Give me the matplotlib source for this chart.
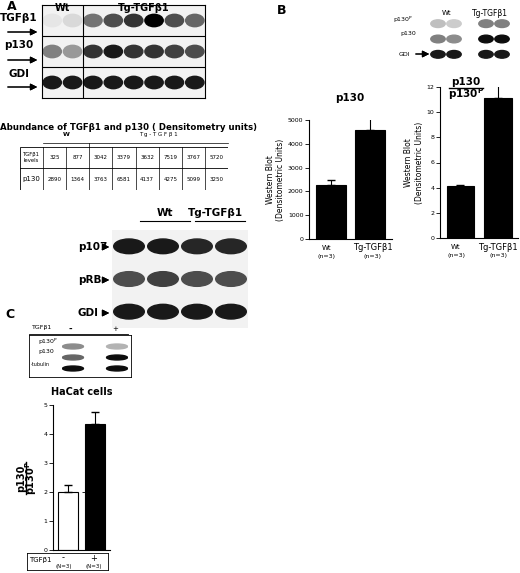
import numpy as np
import matplotlib.pyplot as plt
from matplotlib.patches import Ellipse, Rectangle

W, H = 520, 573

# densitometry table
tab_tgf = [325, 877, 3042, 3379, 3632, 7519, 3767, 5720]
tab_p130 = [2890, 1364, 3763, 6581, 4137, 4275, 5099, 3250]

# panel B bars
b1_groups = ['Wt', 'Tg-TGFβ1']
b1_vals = [2270, 4600]
b1_err = [230, 480]
b2_vals = [4.1, 11.1]
b2_err = [0.1, 1.3]

# panel C bars
c_vals = [2.0, 4.35]
c_err = [0.25, 0.4]

# blot lane intensities (0..1, None = gap)
blotA_tgf = [0.1, 0.15, 0.55, 0.7, 0.8, 1.0, 0.7, 0.6]
blotA_p130 = [0.5, 0.4, 0.8, 0.9, 0.8, 0.8, 0.75, 0.7]
blotA_gdi = [0.9] * 8
blot2_p107 = [0.9, 0.9, 0.85, 0.85]
blot2_prb = [0.7, 0.75, 0.7, 0.7]
blot2_gdi = [0.9, 0.9, 0.9, 0.9]
blotB_p130p = [0.25, 0.2, None, 0.5, 0.5]
blotB_p130 = [0.5, 0.45, None, 0.95, 0.95]
blotB_gdi = [0.9, 0.9, None, 0.9, 0.9]
blotC_p130p = [0.45, None, 0.3]
blotC_p130 = [0.6, None, 0.95]
blotC_tub = [0.95, None, 0.95]

fig = plt.figure(figsize=(W / 100, H / 100), dpi=100)
fig.patch.set_facecolor('white')


def ax_px(x0, y0, x1, y1):
    return fig.add_axes([x0 / W, 1 - y1 / H, (x1 - x0) / W, (y1 - y0) / H])


def txt(x, y, s, **kw):
    kw.setdefault('ha', 'center')
    kw.setdefault('va', 'center')
    kw.setdefault('fontsize', 6)
    fig.text(x / W, 1 - y / H, s, **kw)


def arrow(x0, x1, y):
    fig.add_artist(plt.annotate('', xy=(x1 / W, 1 - y / H), xytext=(x0 / W, 1 - y / H),
                                xycoords='figure fraction',
                                arrowprops=dict(arrowstyle='-|>', lw=0.8, color='k')))


def blot(ax, rows, width=0.9, height=0.35, bg='#f2f2f2'):
    n = len(rows)
    ax.set_xlim(0, len(rows[0]))
    ax.set_ylim(0, n)
    for r, lanes in enumerate(rows):
        yc = n - r - 0.5
        for i, v in enumerate(lanes):
            if v is None:
                continue
            ax.add_patch(Rectangle((i, n - r - 1), 1, 1, color=bg, zorder=0, lw=0))
            ax.add_patch(Ellipse((i + 0.5, yc), width, height, color=str(1 - v), zorder=1))
    ax.set_xticks([])
    ax.set_yticks([])


def frac(x, y, size=8, rot=0, gap=6):
    if rot == 0:
        txt(x, y - gap, 'p130', fontsize=size, fontweight='bold')
        txt(x, y + gap, r'p130$^\mathregular{P}$', fontsize=size, fontweight='bold')
        fig.add_artist(plt.Line2D([(x - 17) / W, (x + 17) / W], [1 - y / H] * 2, color='k', lw=1))
    else:
        txt(x - gap, y, 'p130', fontsize=size, fontweight='bold', rotation=90)
        txt(x + gap, y, r'p130$^\mathregular{P}$', fontsize=size, fontweight='bold', rotation=90)
        fig.add_artist(plt.Line2D([x / W] * 2, [1 - (y - 16) / H, 1 - (y + 16) / H], color='k', lw=1))


# ---- Panel A ----
txt(12, 6, 'A', fontsize=9, fontweight='bold')
axA = ax_px(42, 5, 205, 98)
blot(axA, [blotA_tgf, blotA_p130, blotA_gdi], height=0.4)
for y in [1, 2]:
    axA.axhline(y, color='k', lw=0.8)
axA.axvline(2, color='k', lw=0.8)
axA.text(1, 2.82, 'Wt', ha='center', fontsize=7, fontweight='bold')
axA.text(5, 2.82, 'Tg-TGFβ1', ha='center', fontsize=7, fontweight='bold')
for lab, y in [('TGFβ1', 18), ('p130', 45), ('GDI', 74)]:
    txt(19, y, lab, fontsize=7.5, fontweight='bold')
for y in [32, 60, 87]:
    arrow(5, 40, y)

# table
txt(128, 127, 'Abundance of TGFβ1 and p130 ( Densitometry units)', fontsize=6.2, fontweight='bold')
axT = ax_px(20, 147, 228, 190)
axT.set_xlim(0, 9)
axT.set_ylim(0, 2)
axT.axis('off')
axT.add_patch(Rectangle((0, 0), 9, 2, fill=False, lw=0.6))
axT.axhline(1, color='k', lw=0.6)
for i in range(1, 9):
    axT.plot([i, i], [0, 2], color='k', lw=0.5)
axT.plot([1, 9], [2.2, 2.2], color='k', lw=0.5, clip_on=False)
axT.plot([3, 3], [2, 2.2], color='k', lw=0.5, clip_on=False)
axT.text(2, 2.45, 'W', ha='center', va='bottom', fontsize=4.5, fontweight='bold')
axT.text(6, 2.45, 'T g - T G F β 1', ha='center', va='bottom', fontsize=4)
axT.text(0.5, 1.5, 'TGFβ1\nlevels', ha='center', va='center', fontsize=3.8)
axT.text(0.5, 0.5, 'p130', ha='center', va='center', fontsize=5)
for i, (a, b) in enumerate(zip(tab_tgf, tab_p130)):
    axT.text(i + 1.5, 1.5, str(a), ha='center', va='center', fontsize=4)
    axT.text(i + 1.5, 0.5, str(b), ha='center', va='center', fontsize=4)

# second blot
ax2 = ax_px(112, 230, 248, 328)
blot(ax2, [blot2_p107, blot2_prb, blot2_gdi], height=0.45)
ax2.axis('off')
txt(165, 213, 'Wt', fontsize=7.5, fontweight='bold')
txt(215, 213, 'Tg-TGFβ1', fontsize=7.5, fontweight='bold')
fig.add_artist(plt.Line2D([140 / W, 190 / W], [1 - 221 / H] * 2, color='k', lw=0.8))
fig.add_artist(plt.Line2D([195 / W, 245 / W], [1 - 221 / H] * 2, color='k', lw=0.8))
for lab, y in [('p107', 247), ('pRB', 280), ('GDI', 313)]:
    txt(78, y, lab, fontsize=7.5, fontweight='bold', ha='left')
    arrow(101, 112, y)

# ---- Panel B ----
txt(282, 10, 'B', fontsize=9, fontweight='bold')
axBb = ax_px(430, 16, 510, 62)
blot(axBb, [blotB_p130p, blotB_p130, blotB_gdi], height=0.5, bg='white')
axBb.axis('off')
txt(447, 13, 'Wt', fontsize=5)
txt(490, 13, 'Tg-TGFβ1', fontsize=5.5)
txt(403, 20, r'p130$^\mathregular{P}$', fontsize=4.5)
txt(408, 34, 'p130', fontsize=4.5)
txt(404, 54, 'GDI', fontsize=4.5)
arrow(413, 432, 54)


def bar_panel(ax, vals, errs, colors, ylim, ticks):
    x = np.arange(len(vals))
    ax.bar(x, vals, width=0.75, color=colors, edgecolor='k', lw=0.8)
    ax.errorbar(x, vals, yerr=[[0] * len(vals), errs], fmt='none', ecolor='k', elinewidth=0.8, capsize=3)
    ax.set_ylim(*ylim)
    ax.set_xlim(-0.55, len(vals) - 0.45)
    ax.set_yticks(ticks)
    ax.tick_params(axis='y', labelsize=4.5, length=3, width=0.6, pad=1)
    ax.set_xticks([])
    for s in ['top', 'right']:
        ax.spines[s].set_visible(False)


ax1 = ax_px(309, 120, 392, 239)
bar_panel(ax1, b1_vals, b1_err, ['k', 'k'], (0, 5000), [0, 1000, 2000, 3000, 4000, 5000])
ax1.set_ylabel('Western Blot\n(Densitometric Units)', fontsize=5.5, labelpad=2)
txt(350, 98, 'p130', fontsize=7.5, fontweight='bold')
for x, g in zip([327, 373], b1_groups):
    txt(x, 248, g, fontsize=5 if g == 'Wt' else 6)
    txt(x, 257, '(n=3)', fontsize=4.5)

ax3 = ax_px(440, 87, 518, 238)
bar_panel(ax3, b2_vals, b2_err, ['k', 'k'], (0, 12), [0, 2, 4, 6, 8, 10, 12])
ax3.set_ylabel('Western Blot\n(Densitometric Units)', fontsize=5.5, labelpad=2)
frac(466, 88, size=7.5)
for x, g in zip([456, 498], b1_groups):
    txt(x, 247, g, fontsize=5 if g == 'Wt' else 6)
    txt(x, 256, '(n=3)', fontsize=4.5)

# ---- Panel C ----
txt(10, 315, 'C', fontsize=9, fontweight='bold')
axCb = ax_px(29, 335, 131, 377)
axCb.set_xticks([])
axCb.set_yticks([])
for s in axCb.spines.values():
    s.set_linewidth(0.6)
inner = ax_px(62, 341, 128, 374)
blot(inner, [blotC_p130p, blotC_p130, blotC_tub], width=0.95, height=0.45, bg='white')
inner.axis('off')
txt(32, 327, 'TGFβ1', fontsize=4.5, ha='left')
txt(70, 329, '-', fontsize=6, fontweight='bold')
txt(115, 329, '+', fontsize=5)
fig.add_artist(plt.Line2D([29 / W, 128 / W], [1 - 334 / H] * 2, color='k', lw=0.6))
txt(38, 342, r'p130$^\mathregular{P}$', fontsize=4.5, ha='left')
txt(38, 352, 'p130', fontsize=4.5, ha='left')
txt(31, 365, '-tubulin', fontsize=3.5, ha='left')

axC = ax_px(53, 405, 110, 550)
bar_panel(axC, c_vals, c_err, ['white', 'k'], (0, 5), [0, 1, 2, 3, 4, 5])
axC.axhline(2, xmin=0.5, xmax=0.62, color='k', lw=0.6, ls='--')
txt(82, 392, 'HaCat cells', fontsize=7, fontweight='bold')
frac(26, 478, size=7, rot=90, gap=5)
axCt = ax_px(27, 553, 108, 570)
axCt.set_xticks([])
axCt.set_yticks([])
for s in axCt.spines.values():
    s.set_linewidth(0.6)
axCt.text(0.03, 0.6, 'TGFβ1', fontsize=5, va='center', transform=axCt.transAxes)
for xx, s in [(0.45, '-'), (0.82, '+')]:
    axCt.text(xx, 0.7, s, fontsize=6, ha='center', va='center', transform=axCt.transAxes)
    axCt.text(xx, 0.2, '(N=3)', fontsize=4, ha='center', va='center', transform=axCt.transAxes)

fig.savefig('out.png', dpi=100)
